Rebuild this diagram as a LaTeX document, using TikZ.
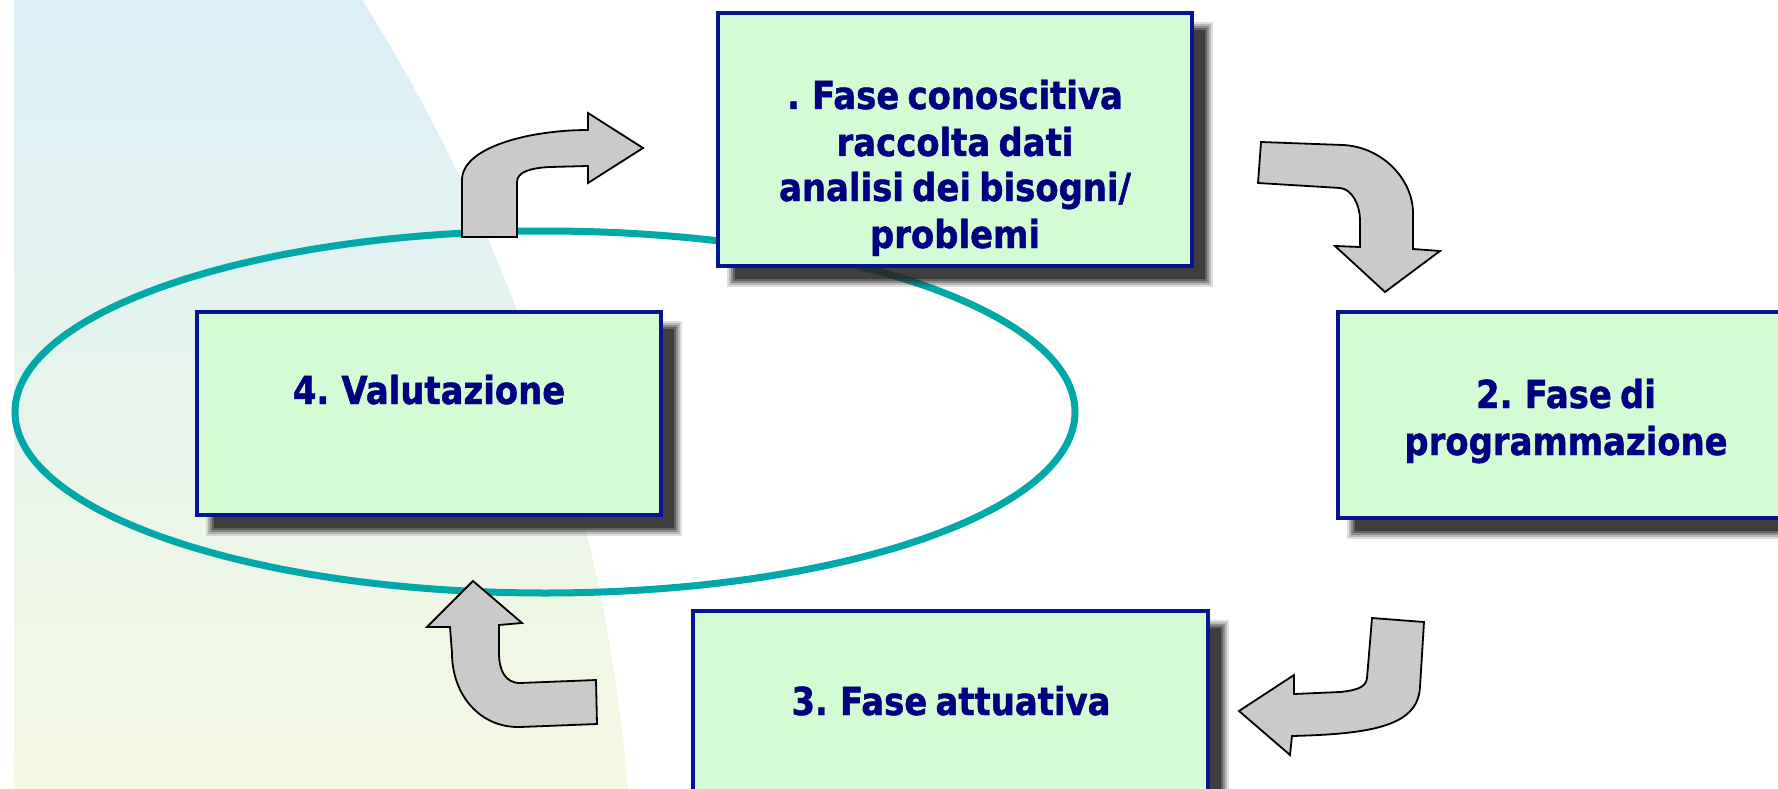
\documentclass[tikz,border=0pt]{standalone}
\usepackage{fontspec}
\newfontfamily\boxfont{DejaVu Sans}[FakeStretch=0.88, WordSpace=0.7, BoldFeatures={FakeBold=1.2}]
\definecolor{bgtop}{RGB}{218,239,247}
\definecolor{bgbot}{RGB}{244,249,225}
\definecolor{ringc}{RGB}{0,168,168}
\definecolor{boxfill}{RGB}{212,252,212}
\definecolor{boxline}{RGB}{5,20,145}
\definecolor{txtc}{RGB}{0,0,128}
\definecolor{arrfill}{RGB}{202,202,202}
\definecolor{shadowc}{RGB}{38,38,38}
\newcommand{\myboxshadow}[4]{%
  \foreach \d/\o in {6/0.15,4/0.2,2/0.3,0/0.4,-2/0.6}{%
    \fill[shadowc, opacity=\o] ({#1+15-\d},{#2+15-\d}) rectangle ({#3+15+\d},{#4+15+\d});
  }%
}
\tikzset{
  phasebox/.style={draw=boxline, fill=boxfill, line width=4pt, rectangle, inner sep=0pt, outer sep=0pt},
  phasetext/.style={text=txtc, font=\boxfont\bfseries\fontsize{38.5}{46}\selectfont, anchor=base, inner sep=0pt},
  bentarrow/.style={draw=black, fill=arrfill, line width=1.8pt, line join=miter},
  ring/.style={draw=ringc, line width=7pt}
}
\begin{document}
\begin{tikzpicture}[x=1pt,y=-1pt]
\useasboundingbox (0,0) rectangle (1778,789);
\clip (0,0) rectangle (1778,789);
\fill[white] (0,0) rectangle (1778,789);
% background band
\shade[top color=bgtop, bottom color=bgbot] (14,0) -- (362,0) .. controls (470,170) and (600,450) .. (628,789) -- (14,789) -- cycle;
% ellipse
\draw[ring] (545,412) ellipse [x radius=530, y radius=181];
% arrows
\draw[bentarrow] (462,237) -- (462,180) .. controls (462,147) and (530,130) .. (588,130) -- (588,113) -- (643,148) -- (588,183) -- (588,166) -- (550,167) .. controls (530,168) and (517,172) .. (517,182) -- (517,237) -- cycle;
\draw[bentarrow] (1261,142) -- (1343,145) .. controls (1383,147) and (1413,180) .. (1413,213) -- (1413,249) -- (1440,251) -- (1385,292) -- (1335,246) -- (1360,247) -- (1360,220) .. controls (1360,205) and (1352,189) .. (1340,188) -- (1258,183) -- cycle;
\draw[bentarrow] (1372,618) -- (1424,622) -- (1420,687) .. controls (1418,725) and (1375,734) .. (1292,736) -- (1290,755) -- (1239,711) -- (1294,675) -- (1294,694) -- (1340,692) .. controls (1360,690) and (1366,686) .. (1367,678) -- cycle;
\draw[bentarrow] (596,680) -- (597,724) -- (520,727) .. controls (480,728) and (452,695) .. (452,653) -- (450,627) -- (427,627) -- (473,581) -- (522,623) -- (499,625) -- (499,653) .. controls (499,670) and (505,683) .. (520,683) -- cycle;
% shadows
\myboxshadow{718}{13}{1192}{266}
\myboxshadow{1338}{312}{1794}{518}
\myboxshadow{693}{611}{1208}{820}
\myboxshadow{197}{312}{661}{515}
% boxes
\node[phasebox, minimum width=474pt, minimum height=253pt] (b1) at (955,139.5) {};
\node[phasebox, minimum width=456pt, minimum height=206pt] (b2) at (1566,415) {};
\node[phasebox, minimum width=515pt, minimum height=209pt] (b3) at (950.5,715.5) {};
\node[phasebox, minimum width=464pt, minimum height=203pt] (b4) at (429,413.5) {};
% texts
\node[phasetext] (t1a) at (955,109) {. Fase conoscitiva};
\node[phasetext] (t1b) at (955,156) {raccolta dati};
\node[phasetext] (t1c) at (955,201) {analisi dei bisogni/};
\node[phasetext] (t1d) at (955,248) {problemi};
\node[phasetext] (t2a) at (1566,408) {2. Fase di};
\node[phasetext] (t2b) at (1566,455) {programmazione};
\node[phasetext] (t3) at (951,715) {3. Fase attuativa};
\node[phasetext] (t4) at (429,404) {4. Valutazione};
\end{tikzpicture}
\end{document}
